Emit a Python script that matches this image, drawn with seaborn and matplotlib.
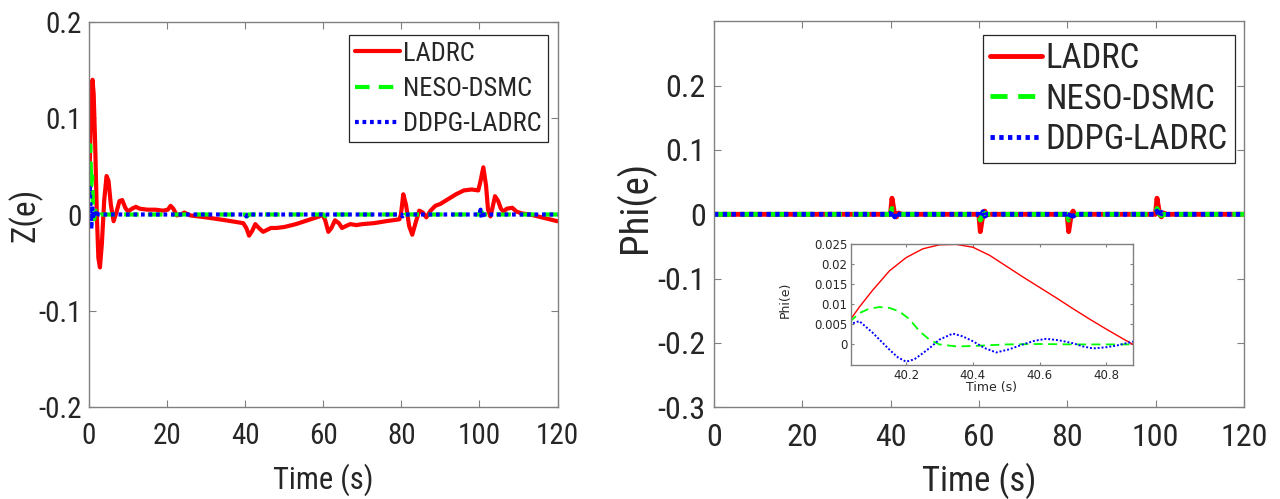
import matplotlib
matplotlib.use("Agg")
import matplotlib.pyplot as plt
import matplotlib.font_manager as fm
from matplotlib.ticker import FuncFormatter
import pandas as pd
import seaborn as sns

# ---------------- data ----------------
series_names = ["LADRC", "NESO-DSMC", "DDPG-LADRC"]

# Left panel: Z(e)
t_z_ladrc = [0, 0.3, 0.6, 0.9, 1.2, 1.6, 2.0, 2.4, 2.8, 3.3,
             3.9, 4.5, 5.0, 5.6, 6.3, 7.0, 7.8, 8.5, 9.3, 10.0,
             11.0, 12.0, 13.0, 15.0, 17.0, 19.0, 20.2, 20.9, 21.6, 22.5,
             23.5, 24.4, 26.0, 30.0, 35.0, 39.5, 40.3, 41.0, 41.8, 42.6,
             43.5, 44.6, 45.6, 46.6, 48.0, 50.0, 53.0, 56.0, 59.0, 59.8,
             60.5, 61.3, 62.1, 63.0, 64.0, 64.8, 65.8, 66.9, 68.5, 70.0,
             73.0, 76.0, 79.5, 79.9, 80.5, 81.2, 82.0, 82.8, 83.7, 84.6,
             85.5, 86.4, 87.5, 88.7, 90.0, 92.0, 94.0, 96.0, 98.0, 99.7,
             100.3, 101.0, 101.7, 102.2, 102.8, 103.4, 104.0, 104.8, 105.5, 106.2,
             107.0, 108.4, 109.5, 111.0, 113.0, 116.0, 120.0]
z_ladrc = [0.025, 0.07, 0.12, 0.14, 0.125, 0.07, 0.0, -0.045, -0.055, -0.03,
           0.015, 0.04, 0.035, 0.01, -0.007, 0.002, 0.014, 0.015, 0.007, 0.003,
           0.006, 0.008, 0.006, 0.005, 0.005, 0.004, 0.005, 0.009, 0.006, -0.001,
           0.0, 0.002, -0.001, -0.003, -0.006, -0.009, -0.014, -0.022, -0.017, -0.010,
           -0.014, -0.018, -0.016, -0.014, -0.014, -0.013, -0.010, -0.006, -0.002, 0.0,
           -0.006, -0.018, -0.014, -0.006, -0.009, -0.014, -0.012, -0.010, -0.011, -0.010,
           -0.009, -0.007, -0.005, 0.0, 0.021, 0.010, -0.012, -0.021, -0.008, 0.004,
           0.002, -0.003, 0.004, 0.009, 0.011, 0.016, 0.021, 0.025, 0.026, 0.025,
           0.035, 0.049, 0.030, 0.005, -0.002, 0.008, 0.019, 0.014, 0.006, 0.003,
           0.006, 0.007, 0.003, 0.001, 0.0, -0.003, -0.007]

t_z_neso = [0, 0.15, 0.3, 0.45, 0.6, 0.8, 1.0, 1.3, 1.7, 2.2, 3.0, 5.0,
            40.0, 40.5, 41.0, 60.0, 60.5, 61.0, 80.0, 80.5, 81.0, 100.0, 100.5, 101.0, 120.0]
z_neso = [0.04, 0.055, 0.072, 0.05, 0.03, 0.04, 0.01, -0.005, 0.004, -0.002, 0.0, 0.0,
          0.0, -0.002, 0.0, 0.0, -0.002, 0.0, 0.0, -0.002, 0.0, 0.0, 0.003, 0.0, 0.0]

t_z_ddpg = [0, 0.2, 0.4, 0.6, 0.8, 1.0, 1.3, 1.6, 2.0, 2.5, 3.5,
            40.0, 40.3, 40.6, 60.0, 60.3, 60.6, 80.0, 80.3, 80.6, 100.0, 100.3, 100.6, 101.0, 120.0]
z_ddpg = [0.02, 0.028, 0.005, -0.015, 0.01, -0.005, 0.004, -0.002, 0.001, 0.0, 0.0,
          0.0, -0.002, 0.0, 0.0, -0.001, 0.0, 0.0, -0.002, 0.0, 0.0, 0.005, -0.004, 0.0, 0.0]

# Right panel: Phi(e)
t_phi = [0, 39.95, 40.3, 40.9, 41.3, 41.8, 42.5,
         59.95, 60.3, 60.9, 61.3, 61.8, 62.5,
         79.95, 80.3, 80.9, 81.3, 81.8, 82.5,
         99.95, 100.3, 100.9, 101.3, 101.8, 102.5, 120]
phi_ladrc = [0, 0, 0.025, 0.0, -0.004, 0.002, 0.0,
             0, -0.027, 0.0, 0.005, -0.001, 0.0,
             0, -0.027, 0.0, 0.005, -0.001, 0.0,
             0, 0.025, 0.0, -0.004, 0.002, 0.0, 0]
phi_neso = [0, 0, 0.009, 0.0, -0.002, 0.0, 0.0,
            0, -0.009, 0.0, 0.002, 0.0, 0.0,
            0, -0.009, 0.0, 0.002, 0.0, 0.0,
            0, 0.009, 0.0, -0.002, 0.0, 0.0, 0]
phi_ddpg = [0, 0, 0.005, -0.004, 0.003, 0.0, 0.0,
            0, -0.005, 0.004, -0.003, 0.0, 0.0,
            0, -0.005, 0.004, -0.003, 0.0, 0.0,
            0, 0.005, -0.004, 0.003, 0.0, 0.0, 0]

# Inset: Phi(e) zoom around t = 40 s
t_in_ladrc = [40.03, 40.06, 40.10, 40.15, 40.20, 40.25, 40.30, 40.35, 40.40, 40.45,
              40.50, 40.55, 40.60, 40.65, 40.70, 40.75, 40.80, 40.85, 40.88]
in_ladrc = [0.0058, 0.0093, 0.0135, 0.0183, 0.0216, 0.0238, 0.0248, 0.0249, 0.0242, 0.0222,
            0.0195, 0.0168, 0.0142, 0.0116, 0.0089, 0.0063, 0.0038, 0.0014, 0.0]
t_in_neso = [40.03, 40.06, 40.09, 40.12, 40.15, 40.18, 40.21, 40.24, 40.27, 40.30,
             40.35, 40.40, 40.45, 40.50, 40.60, 40.70, 40.80, 40.88]
in_neso = [0.0055, 0.0078, 0.0089, 0.0093, 0.0091, 0.0082, 0.0063, 0.0033, 0.0012, 0.0,
           -0.0005, -0.0004, -0.0002, 0.0, 0.0001, 0.0, 0.0, 0.0]
t_in_ddpg = [40.03, 40.06, 40.10, 40.125, 40.15, 40.175, 40.20, 40.225, 40.25, 40.275,
             40.30, 40.34, 40.37, 40.40, 40.435, 40.47, 40.51, 40.55, 40.585, 40.62,
             40.66, 40.70, 40.73, 40.76, 40.80, 40.83, 40.88]
in_ddpg = [0.0050, 0.0058, 0.0029, 0.0008, -0.0013, -0.0032, -0.0043, -0.0037, -0.0022, -0.0006,
           0.0012, 0.0027, 0.0020, 0.0008, -0.0009, -0.0020, -0.0012, 0.0, 0.0009, 0.0014,
           0.0010, 0.0003, -0.0005, -0.0010, -0.0007, -0.0003, 0.0007]

x_ticks = [0, 20, 40, 60, 80, 100, 120]
z_ticks = [-0.2, -0.1, 0, 0.1, 0.2]
phi_ticks = [-0.3, -0.2, -0.1, 0, 0.1, 0.2]
in_xticks = [40.2, 40.4, 40.6, 40.8]
in_yticks = [0, 0.005, 0.01, 0.015, 0.02, 0.025]

colors = ["#ff0000", "#00ff00", "#0000ff"]

# ---------------- styling ----------------
sns.set_theme(style="white")


def find_narrow():
    prefs = ["Liberation Sans Narrow", "Arial Narrow", "Roboto Condensed",
             "Noto Sans", "Open Sans", "Roboto", "DejaVu Sans"]
    found = []
    for f in fm.fontManager.ttflist:
        name = f.name
        st = str(f.stretch).lower()
        is_narrow = ("narrow" in name.lower() or "condensed" in name.lower()
                     or st in ("condensed", "semi-condensed", "extra-condensed")
                     or (isinstance(f.stretch, int) and f.stretch < 500))
        if not is_narrow or f.style != "normal":
            continue
        if f.weight not in (400, "normal", "regular"):
            continue
        for i, p in enumerate(prefs):
            if name.startswith(p):
                found.append((i, name, f.stretch))
                break
    found.sort(key=lambda x: x[0])
    return found[0] if found else None


nar = find_narrow()
if nar is not None:
    plt.rcParams["font.family"] = [nar[1], "Liberation Sans", "DejaVu Sans"]
    plt.rcParams["font.stretch"] = nar[2]
    narrow_ok = True
else:
    plt.rcParams["font.family"] = ["Liberation Sans", "DejaVu Sans"]
    narrow_ok = False
plt.rcParams["axes.unicode_minus"] = False

W, H = 1280, 499
fig = plt.figure(figsize=(W / 100, H / 100), dpi=100)
fig.patch.set_facecolor("white")


def frac(x0, y0, x1, y1):
    return [x0 / W, 1 - y1 / H, (x1 - x0) / W, (y1 - y0) / H]


axL = fig.add_axes(frac(89, 22, 557.5, 407))
axR = fig.add_axes(frac(714, 21.3, 1244, 407.3))
axI = fig.add_axes(frac(851, 244, 1133, 364.5))

fmt = FuncFormatter(lambda v, p: "%g" % round(v, 6))


def draw(ax, t, y, label, color, ls, lw):
    df = pd.DataFrame({"t": t, "v": y})
    sns.lineplot(data=df, x="t", y="v", ax=ax, color=color, linewidth=lw,
                 linestyle=ls, label=label, estimator=None, sort=False)


def style_axes(ax, labelsize, ticklen, xpad, ypad):
    for s in ax.spines.values():
        s.set_visible(True)
        s.set_color("#808080")
        s.set_linewidth(1.0)
    ax.tick_params(axis="both", which="both", direction="in", top=True, right=True,
                   bottom=True, left=True, length=ticklen, width=0.8, color="#808080",
                   labelsize=labelsize, labelcolor="#262626")
    ax.tick_params(axis="x", pad=xpad)
    ax.tick_params(axis="y", pad=ypad)
    ax.set_facecolor("white")
    ax.grid(False)


dash_main = (0, (3.5, 2.2))
dot_main = (0, (0.9, 0.9))

legL_size = 19 if narrow_ok else 17
legR_size = 25 if narrow_ok else 22

# Left panel
draw(axL, t_z_ladrc, z_ladrc, series_names[0], colors[0], "-", 3.0)
draw(axL, t_z_neso, z_neso, series_names[1], colors[1], dash_main, 3.0)
draw(axL, t_z_ddpg, z_ddpg, series_names[2], colors[2], dot_main, 3.0)
axL.set_xlim(0, 120)
axL.set_ylim(-0.2, 0.2)
axL.set_xticks(x_ticks)
axL.set_yticks(z_ticks)
axL.yaxis.set_major_formatter(fmt)
style_axes(axL, 21 if narrow_ok else 20, 5, 11, 5)
axL.set_xlabel("Time (s)", fontsize=22 if narrow_ok else 21, color="#262626")
axL.set_ylabel("Z(e)", fontsize=24 if narrow_ok else 23, color="#262626")
axL.xaxis.label.set_va("center")
axL.yaxis.label.set_va("center")
axL.xaxis.set_label_coords(0.5, -0.19)
axL.yaxis.set_label_coords(-0.137, 0.5)
legL = axL.legend(loc="upper right", bbox_to_anchor=(0.98, 0.966), fontsize=legL_size,
                  frameon=True, fancybox=False, framealpha=1, edgecolor="#262626",
                  handlelength=1.7, handletextpad=0.1, borderpad=0.25,
                  labelspacing=0.42, borderaxespad=0)
legL.get_frame().set_linewidth(0.9)

# Right panel
draw(axR, t_phi, phi_ladrc, series_names[0], colors[0], "-", 3.5)
draw(axR, t_phi, phi_neso, series_names[1], colors[1], dash_main, 3.5)
draw(axR, t_phi, phi_ddpg, series_names[2], colors[2], dot_main, 3.5)
axR.set_xlim(0, 120)
axR.set_ylim(-0.3, 0.3)
axR.set_xticks(x_ticks)
axR.set_yticks(phi_ticks)
axR.yaxis.set_major_formatter(fmt)
style_axes(axR, 23 if narrow_ok else 22, 5, 11, 6)
axR.set_xlabel("Time (s)", fontsize=25 if narrow_ok else 24, color="#262626")
axR.set_ylabel("Phi(e)", fontsize=28 if narrow_ok else 26, color="#262626")
axR.xaxis.label.set_va("center")
axR.yaxis.label.set_va("center")
axR.xaxis.set_label_coords(0.5, -0.19)
axR.yaxis.set_label_coords(-0.149, 0.52)
legR = axR.legend(loc="upper right", bbox_to_anchor=(0.983, 0.9645), fontsize=legR_size,
                  frameon=True, fancybox=False, framealpha=1, edgecolor="#262626",
                  handlelength=1.5, handletextpad=0.1, borderpad=0.2,
                  labelspacing=0.22, borderaxespad=0)
legR.get_frame().set_linewidth(0.9)

# Inset
draw(axI, t_in_ladrc, in_ladrc, None, colors[0], "-", 1.0)
draw(axI, t_in_neso, in_neso, None, colors[1], (0, (5, 3)), 1.3)
draw(axI, t_in_ddpg, in_ddpg, None, colors[2], (0, (1, 1)), 1.4)
axI.set_xlim(40.035, 40.88)
axI.set_ylim(-0.005, 0.025)
axI.set_xticks(in_xticks)
axI.set_yticks(in_yticks)
axI.yaxis.set_major_formatter(fmt)
axI.xaxis.set_major_formatter(fmt)
style_axes(axI, 8.5, 2.5, 3.5, 2.5)
for lab in axI.get_xticklabels() + axI.get_yticklabels():
    lab.set_fontfamily("DejaVu Sans")
    lab.set_fontstretch("normal")
axI.set_xlabel("Time (s)", fontsize=9, color="#262626", fontfamily="DejaVu Sans",
               fontstretch="normal")
axI.set_ylabel("Phi(e)", fontsize=9, color="#262626", fontfamily="DejaVu Sans",
               fontstretch="normal")
axI.xaxis.label.set_va("center")
axI.yaxis.label.set_va("center")
axI.xaxis.set_label_coords(0.5, -0.19)
axI.yaxis.set_label_coords(-0.234, 0.535)
if axI.get_legend() is not None:
    axI.get_legend().remove()

fig.savefig("out.png", dpi=100, facecolor="white")
